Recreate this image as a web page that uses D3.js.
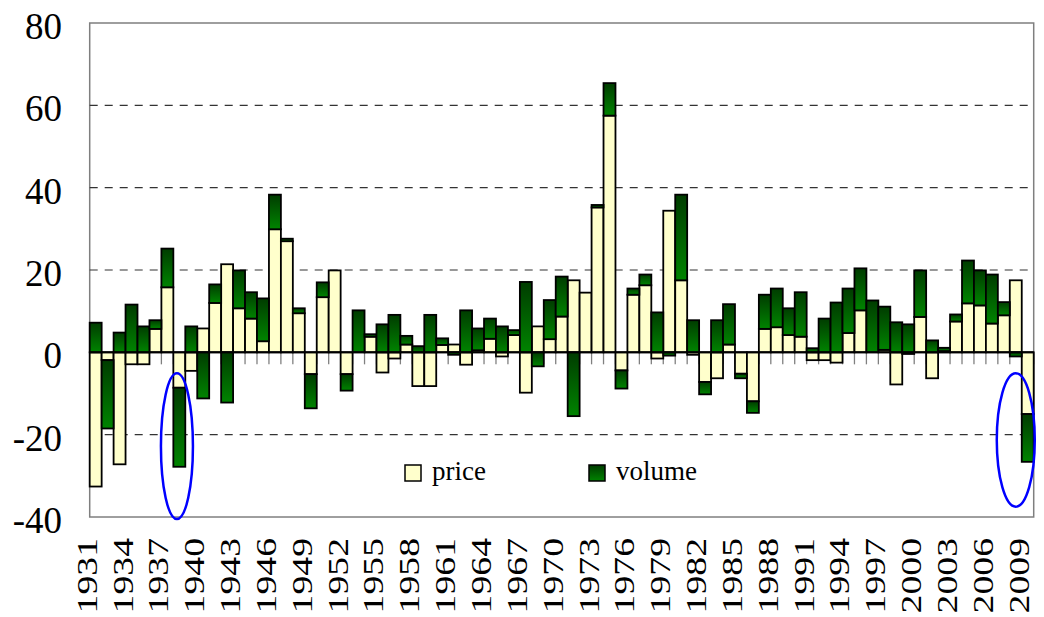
<!DOCTYPE html>
<html>
<head>
<meta charset="utf-8">
<script src="https://cdn.jsdelivr.net/npm/d3@7"></script>
<style>
  body { margin: 0; background: #fff; }
  svg { display: block; }
  text { font-family: 'Liberation Serif', 'DejaVu Serif', 'Times New Roman', serif; }
</style>
</head>
<body>
<svg id="chart" width="1044" height="617"></svg>
<script>
// years on the category axis
var years = [1931, 1932, 1933, 1934, 1935, 1936, 1937, 1938, 1939, 1940,
    1941, 1942, 1943, 1944, 1945, 1946, 1947, 1948, 1949, 1950,
    1951, 1952, 1953, 1954, 1955, 1956, 1957, 1958, 1959, 1960,
    1961, 1962, 1963, 1964, 1965, 1966, 1967, 1968, 1969, 1970,
    1971, 1972, 1973, 1974, 1975, 1976, 1977, 1978, 1979, 1980,
    1981, 1982, 1983, 1984, 1985, 1986, 1987, 1988, 1989, 1990,
    1991, 1992, 1993, 1994, 1995, 1996, 1997, 1998, 1999, 2000,
    2001, 2002, 2003, 2004, 2005, 2006, 2007, 2008, 2009];

var price = [-32.6, -1.9, -27.2, -2.9, -2.9, 5.7, 15.8, -8.6, -4.5, 5.8,
    12.0, 21.4, 10.7, 8.2, 2.7, 29.9, 27.0, 9.5, -5.3, 13.4,
    19.9, -5.3, 0, 3.8, -4.9, -1.5, 1.9, -8.2, -8.2, 1.8,
    1.9, -3.0, 0.5, 3.3, -1.0, 4.2, -9.8, 6.3, 3.2, 8.7,
    17.5, 14.5, 35.2, 57.5, -4.4, 14.0, 16.3, -1.5, 34.4, 17.5,
    -0.6, -7.2, -6.3, 1.9, -5.2, -11.9, 5.7, 6.1, 4.2, 3.8,
    -1.9, -1.9, -2.5, 4.7, 10.2, 0, 0.6, -7.8, -0.4, 8.6,
    -6.3, 0.3, 7.5, 11.9, 11.4, 7.0, 9.0, 17.5, -15.0];

var volume = [7.2, -16.6, 4.8, 11.6, 6.3, 2.1, 9.4, -19.2, 6.3, -11.2,
    4.5, -12.2, 9.2, 6.4, 10.4, 8.4, 0.6, 1.2, -8.3, 3.6,
    0, -4.0, 10.2, 0.6, 6.8, 9.1, 2.1, 1.5, 9.1, 1.6,
    -0.6, 10.2, 5.3, 4.9, 6.3, 1.2, 17.1, -3.4, 9.5, 9.7,
    -15.5, 0, 0.6, 7.9, -4.4, 1.5, 2.6, 9.7, -0.8, 20.8,
    7.8, -3.0, 7.8, 9.8, -1.1, -2.8, 8.3, 9.4, 6.5, 10.8,
    1.0, 8.2, 12.1, 10.8, 10.2, 12.6, 10.5, 7.3, 6.8, 11.3,
    2.9, 0.8, 1.7, 10.4, 8.5, 11.9, 3.2, -1.0, -11.6];

var seriesNames = ['price', 'volume'];
var yTicks = [-40, -20, 0, 20, 40, 60, 80];
var gridValues = [-20, 20, 40, 60];

// circled years (centre value and half height in data units)
var marks = [
    {year: 1938, shift: -0.2, value: -22.8, rx: 16, half: 17.7},
    {year: 2009, shift: -1.0, value: -21.3, rx: 19, half: 16.2}
];

var serif = "'Liberation Serif', 'DejaVu Serif', serif";
var svg = d3.select('#chart');
var plot = {l: 89.7, r: 1033.7, t: 23, b: 517};

var xScale = d3.scaleBand().domain(years).range([plot.l, plot.r]).padding(0);
var yScale = d3.scaleLinear().domain([-40, 80]).range([plot.b, plot.t]);

// green gradient used by volume bars
var defs = svg.append('defs');
var grad = defs.append('linearGradient')
    .attr('id', 'greenGrad')
    .attr('x1', 0).attr('y1', 0).attr('x2', 0).attr('y2', 1);
grad.append('stop').attr('offset', '0%').attr('stop-color', '#003c00');
grad.append('stop').attr('offset', '100%').attr('stop-color', '#008400');

var colors = {price: '#ffffcc', volume: 'url(#greenGrad)'};

// frame
svg.append('rect')
    .attr('x', plot.l).attr('y', plot.t)
    .attr('width', plot.r - plot.l).attr('height', plot.b - plot.t)
    .attr('fill', 'none')
    .attr('stroke', '#7f7f7f')
    .attr('stroke-width', 1.5);

// dashed grid
svg.append('g').selectAll('line').data(gridValues)
    .enter().append('line')
    .attr('x1', plot.l).attr('x2', plot.r)
    .attr('y1', d => yScale(d)).attr('y2', d => yScale(d))
    .attr('stroke', '#333')
    .attr('stroke-width', 1.2)
    .attr('stroke-dasharray', '8,7');

// y axis labels
svg.append('g').selectAll('text').data(yTicks)
    .enter().append('text')
    .attr('x', 62)
    .attr('y', d => yScale(d) + 16)
    .attr('text-anchor', 'end')
    .attr('font-family', serif)
    .style('font-size', '37px')
    .style('fill', '#000')
    .text(d => d);

// category ticks under the zero line
var bounds = years.map(d => xScale(d)).concat([plot.r]);
svg.append('g').selectAll('line').data(bounds)
    .enter().append('line')
    .attr('x1', d => d).attr('x2', d => d)
    .attr('y1', yScale(0)).attr('y2', yScale(0) + 12)
    .attr('stroke', '#808080')
    .attr('stroke-width', 1.3);

// stacked bars, price next to zero then volume
var rows = years.map((y, i) => ({year: y, price: price[i], volume: volume[i]}));
var stacked = d3.stack().keys(seriesNames).offset(d3.stackOffsetDiverging)(rows);

var barG = svg.append('g');
stacked.forEach(function(layer) {
    barG.append('g').selectAll('rect').data(layer.filter(d => d[1] !== d[0]))
        .enter().append('rect')
        .attr('x', d => xScale(d.data.year))
        .attr('y', d => yScale(Math.max(d[0], d[1])))
        .attr('width', xScale.bandwidth())
        .attr('height', d => Math.abs(yScale(d[0]) - yScale(d[1])))
        .attr('fill', colors[layer.key])
        .attr('stroke', '#000')
        .attr('stroke-width', 1.8);
});

// zero line
svg.append('line')
    .attr('x1', plot.l).attr('x2', plot.r)
    .attr('y1', yScale(0)).attr('y2', yScale(0))
    .attr('stroke', '#000')
    .attr('stroke-width', 2);

// x labels every third year
var labelYears = years.filter((d, i) => i % 3 === 0);
svg.append('g').selectAll('text').data(labelYears)
    .enter().append('text')
    .attr('transform', d => 'translate(' + (xScale(d) + xScale.bandwidth() / 2 + 1) + ',538) rotate(-90) scale(1.3,1)')
    .attr('text-anchor', 'end')
    .attr('font-family', serif)
    .style('font-size', '29px')
    .style('fill', '#000')
    .text(d => d);

// legend
var legend = svg.append('g').selectAll('g').data(seriesNames)
    .enter().append('g')
    .attr('transform', (d, i) => 'translate(405,465)'.replace('405', 405 + i * 184));
legend.append('rect')
    .attr('width', 16).attr('height', 16)
    .attr('fill', d => colors[d])
    .attr('stroke', '#000')
    .attr('stroke-width', 1.5);
legend.append('text')
    .attr('x', 27).attr('y', 15)
    .attr('font-family', serif)
    .style('font-size', '27px')
    .style('fill', '#000')
    .text(d => d);

// blue ellipses around the highlighted bars
svg.append('g').selectAll('ellipse').data(marks)
    .enter().append('ellipse')
    .attr('cx', d => xScale(d.year) + xScale.bandwidth() / 2 + d.shift * xScale.bandwidth())
    .attr('cy', d => yScale(d.value))
    .attr('rx', d => d.rx)
    .attr('ry', d => yScale(0) - yScale(d.half))
    .attr('fill', 'none')
    .attr('stroke', '#0000ff')
    .attr('stroke-width', 2.5);
</script>
</body>
</html>
